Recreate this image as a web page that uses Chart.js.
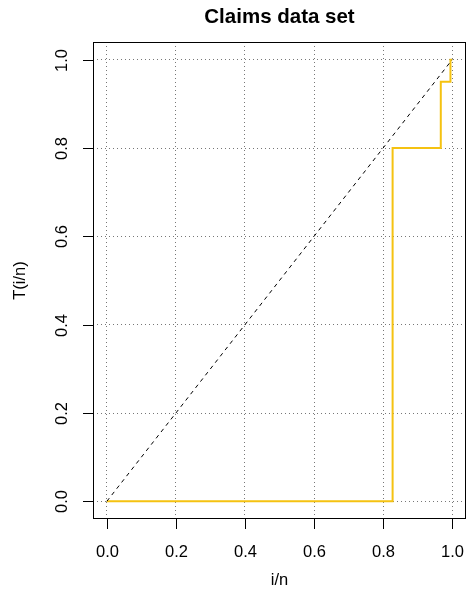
<!DOCTYPE html>
<html>
<head>
<meta charset="utf-8">
<script src="https://cdn.jsdelivr.net/npm/chart.js@4/dist/chart.umd.min.js"></script>
<style>
  html, body { margin: 0; padding: 0; background: #fff; }
  #wrap { width: 469px; height: 591px; }
</style>
</head>
<body>
<div id="wrap"><canvas id="chart"></canvas></div>
<script>
// step curve T(i/n)
const stepX = [0, 0.8275, 0.967, 0.995, 1.0];
const stepY = [0, 0.8, 0.95, 1.0, 1.0];
// reference diagonal
const diagX = [0, 1];
const diagY = [0, 1];
const tickValues = [0, 0.2, 0.4, 0.6, 0.8, 1.0];
const tickLabels = ['0.0', '0.2', '0.4', '0.6', '0.8', '1.0'];

const FONT = '"Liberation Sans", Arial, Helvetica, sans-serif';

const rAxes = {
    id: 'rAxes',
    afterDraw(chart) {
        const c = chart.ctx;
        const a = chart.chartArea;
        const xs = chart.scales.x;
        const ys = chart.scales.y;
        c.save();
        c.strokeStyle = '#000';
        c.lineWidth = 1;
        c.strokeRect(a.left + 0.5, a.top + 0.5, a.right - a.left - 1, a.bottom - a.top - 1);

        // x axis ticks and labels
        c.fillStyle = '#000';
        c.font = '16.5px ' + FONT;
        c.textAlign = 'center';
        c.textBaseline = 'middle';
        tickValues.forEach((v, i) => {
            const px = Math.round(xs.getPixelForValue(v)) + 0.5;
            c.beginPath();
            c.moveTo(px, a.bottom);
            c.lineTo(px, a.bottom + 10);
            c.stroke();
            c.fillText(tickLabels[i], px, 552);
        });

        // y axis ticks and rotated labels
        tickValues.forEach((v, i) => {
            const py = Math.round(ys.getPixelForValue(v)) + 0.5;
            c.beginPath();
            c.moveTo(a.left - 10, py);
            c.lineTo(a.left, py);
            c.stroke();
            c.save();
            c.translate(62, py);
            c.rotate(-Math.PI / 2);
            c.fillText(tickLabels[i], 0, 0);
            c.restore();
        });

        // axis titles
        const midX = (a.left + a.right) / 2;
        const midY = (a.top + a.bottom) / 2;
        c.fillText('i/n', midX, 580);
        c.save();
        c.translate(20, midY);
        c.rotate(-Math.PI / 2);
        c.fillText('T(i/n)', 0, 0);
        c.restore();

        // title
        c.font = 'bold 20.5px ' + FONT;
        c.fillText('Claims data set', midX, 17);
        c.restore();
    }
};

const fixTicks = (scale) => {
    scale.ticks = tickValues.map(v => ({ value: v }));
};

new Chart(document.getElementById('chart'), {
    type: 'scatter',
    data: {
        datasets: [
            {
                data: diagX.map((x, i) => ({ x, y: diagY[i] })),
                showLine: true,
                borderColor: '#000',
                borderWidth: 1,
                borderDash: [4, 4],
                pointRadius: 0,
                fill: false
            },
            {
                data: stepX.map((x, i) => ({ x, y: stepY[i] })),
                showLine: true,
                stepped: 'before',
                borderColor: '#F5C211',
                borderWidth: 2,
                pointRadius: 0,
                fill: false
            }
        ]
    },
    options: {
        responsive: true,
        maintainAspectRatio: false,
        animation: false,
        layout: { padding: { top: 42, right: 3, left: 0, bottom: 0 } },
        plugins: {
            legend: { display: false },
            tooltip: { enabled: false },
            title: { display: false }
        },
        scales: {
            x: {
                type: 'linear',
                min: -0.04,
                max: 1.04,
                afterBuildTicks: fixTicks,
                afterFit: (s) => { s.height = 72; },
                ticks: { display: false },
                border: { display: false, dash: [1, 3] },
                grid: {
                    color: '#777',
                    lineWidth: 1,
                    drawTicks: false
                }
            },
            y: {
                type: 'linear',
                min: -0.04,
                max: 1.04,
                afterBuildTicks: fixTicks,
                afterFit: (s) => { s.width = 93; },
                ticks: { display: false },
                border: { display: false, dash: [1, 3] },
                grid: {
                    color: '#777',
                    lineWidth: 1,
                    drawTicks: false
                }
            }
        }
    },
    plugins: [rAxes]
});
</script>
</body>
</html>
